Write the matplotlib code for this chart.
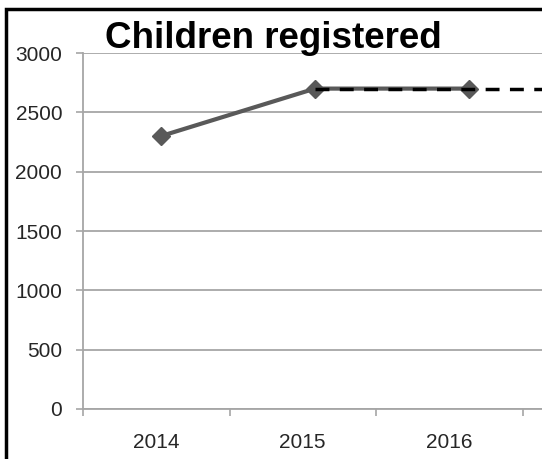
import matplotlib.pyplot as plt
from matplotlib.patches import Rectangle

years = ['2014', '2015', '2016']
registered = [2300, 2700, 2700]
# projection carried forward from 2015
proj_x = [1, 2, 3]
proj_vals = [2700, 2700, 2700]
yticks = [0, 500, 1000, 1500, 2000, 2500, 3000]

W, H = 542, 459
fig = plt.figure(figsize=(W / 100, H / 100), dpi=100)
plt.rcParams['font.family'] = ['Liberation Sans', 'DejaVu Sans']

grid_c = '#a6a6a6'
txt_c = '#262626'
ax = fig.add_axes([83 / W, (H - 409) / H, (W - 83) / W, 356 / H])
ax.set_ylim(0, 3000)
ax.set_xlim(-0.5, (W - 83) / 146.5 - 0.5)
ax.set_yticks(yticks)
ax.set_xticks(range(len(years)))
ax.set_xticklabels(years)
ax.set_xticks([-0.5, 0.5, 1.5, 2.5], minor=True)
ax.tick_params(axis='x', which='major', length=0, pad=17, labelsize=15, labelcolor=txt_c)
ax.tick_params(axis='x', which='minor', length=5, width=1.2, color=grid_c)
ax.tick_params(axis='y', length=5, width=1.2, color=grid_c, pad=10, labelsize=15, labelcolor=txt_c)
ax.grid(axis='y', color=grid_c, linewidth=1.3)
ax.set_axisbelow(True)
for s in ['top', 'right']:
    ax.spines[s].set_visible(False)
for s in ['left', 'bottom']:
    ax.spines[s].set_color(grid_c)
    ax.spines[s].set_linewidth(1.3)

# series drawn on their own horizontal scale
ax2 = ax.twiny()
ax2.set_xlim((83 - 161) / 154, (W - 161) / 154)
ax2.set_ylim(0, 3000)
ax2.axis('off')
ax2.plot(range(len(registered)), registered, color='#595959', linewidth=3,
         marker='D', markersize=9, zorder=3)
ax2.plot(proj_x, proj_vals, color='black', linewidth=2.5, linestyle=(0, (4, 3)),
         zorder=4)

fig.text(273 / W, 1 - 48 / H, 'Children registered', ha='center', va='baseline',
         fontsize=26.5, fontweight='bold', color='black')

fig.patches.append(Rectangle((6 / W, -0.1), 1.2, 1 - 9 / H + 0.1, transform=fig.transFigure,
                             fill=False, edgecolor='black', linewidth=2.5, figure=fig))

fig.savefig('out.png', dpi=100)
